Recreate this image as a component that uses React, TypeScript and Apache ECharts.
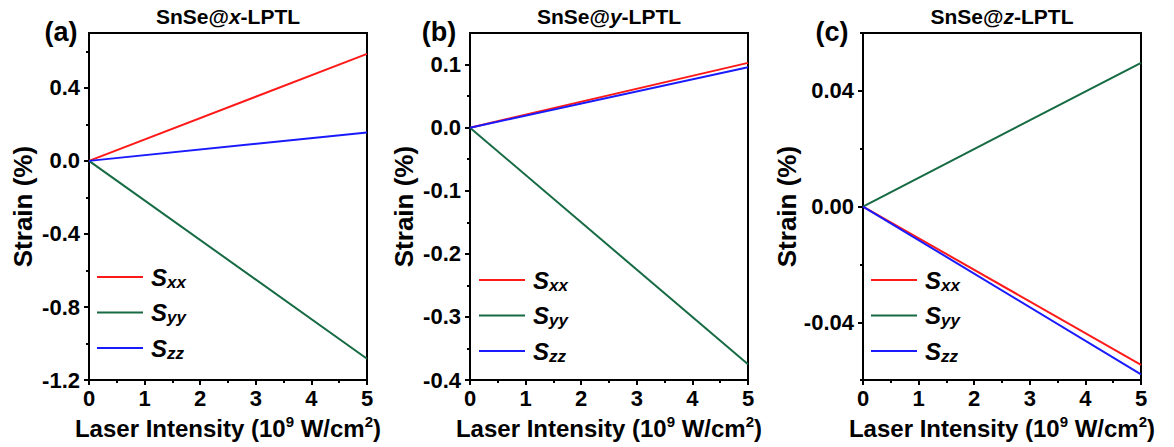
import React, { useEffect, useRef } from "react";
import * as echarts from "echarts";

const FONT = '"Liberation Sans", Arial, Helvetica, sans-serif';

// Laser intensity (10^9 W/cm^2)
const intensity = [0, 5];
const xTicks = [0, 1, 2, 3, 4, 5];

// Panel (a) SnSe@x-LPTL strain (%)
const aSxx = [0, 0.586];
const aSyy = [0, -1.083];
const aSzz = [0, 0.155];
const aMajor = [-1.2, -0.8, -0.4, 0, 0.4];
const aMinor = [-1.0, -0.6, -0.2, 0.2, 0.6];

// Panel (b) SnSe@y-LPTL strain (%)
const bSxx = [0, 0.1027];
const bSyy = [0, -0.375];
const bSzz = [0, 0.0958];
const bMajor = [-0.4, -0.3, -0.2, -0.1, 0, 0.1];
const bMinor = [-0.35, -0.25, -0.15, -0.05, 0.05];

// Panel (c) SnSe@z-LPTL strain (%)
const cSxx = [0, -0.0547];
const cSyy = [0, 0.0497];
const cSzz = [0, -0.058];
const cMajor = [-0.04, 0, 0.04];
const cMinor = [-0.06, -0.02, 0.02, 0.06];

const seriesNames = ["Sxx", "Syy", "Szz"];
const colors = ["#ff1a1a", "#166b43", "#1a1aff"];

const panels = [
  {
    label: "(a)", dir: "x", data: [aSxx, aSyy, aSzz], min: -1.2, max: 0.7,
    major: aMajor, minor: aMinor, digits: 1,
    grid: { left: 89, top: 33, width: 278, height: 348 },
    legend: { left: 97, top: 265 }, labelX: 61,
  },
  {
    label: "(b)", dir: "y", data: [bSxx, bSyy, bSzz], min: -0.4, max: 0.15,
    major: bMajor, minor: bMinor, digits: 1,
    grid: { left: 470, top: 33, width: 278, height: 348 },
    legend: { left: 479, top: 268 }, labelX: 439,
  },
  {
    label: "(c)", dir: "z", data: [cSxx, cSyy, cSzz], min: -0.06, max: 0.06,
    major: cMajor, minor: cMinor, digits: 2,
    grid: { left: 863, top: 33, width: 278, height: 348 },
    legend: { left: 871, top: 268 }, labelX: 832,
  },
];

function buildOption() {
  const grid: any[] = [];
  const xAxis: any[] = [];
  const yAxis: any[] = [];
  const series: any[] = [];
  const legend: any[] = [];
  const graphic: any[] = [];

  panels.forEach((p, i) => {
    grid.push({
      ...p.grid,
      show: true,
      borderColor: "#000",
      borderWidth: 2,
      backgroundColor: "transparent",
    });
    xAxis.push({
      type: "value",
      gridIndex: i,
      min: 0,
      max: 5,
      interval: 1,
      axisLine: { show: true, onZero: false, lineStyle: { color: "#000", width: 2 } },
      axisTick: { show: true, length: 5, lineStyle: { color: "#000", width: 2 } },
      minorTick: { show: true, splitNumber: 2, length: 3, lineStyle: { color: "#000", width: 2 } },
      splitLine: { show: false },
      minorSplitLine: { show: false },
      axisLabel: {
        color: "#000",
        fontFamily: FONT,
        fontWeight: "bold",
        fontSize: 22,
        margin: 7,
        customValues: xTicks,
        formatter: (v: number) => String(v),
      },
      name: "Laser Intensity (10{sup|9} W/cm{sup|2})",
      nameLocation: "middle",
      nameGap: 27,
      nameTextStyle: {
        color: "#000",
        fontFamily: FONT,
        fontWeight: "bold",
        fontSize: 24,
        lineHeight: 28,
        rich: {
          sup: {
            color: "#000",
            fontFamily: FONT,
            fontWeight: "bold",
            fontSize: 15,
            lineHeight: 15,
            verticalAlign: "top",
          },
        },
      },
    });
    yAxis.push({
      type: "value",
      gridIndex: i,
      min: p.min,
      max: p.max,
      axisLine: { show: true, onZero: false, lineStyle: { color: "#000", width: 2 } },
      axisTick: { show: true, length: 5, customValues: p.major, lineStyle: { color: "#000", width: 2 } },
      splitLine: { show: false },
      axisLabel: {
        color: "#000",
        fontFamily: FONT,
        fontWeight: "bold",
        fontSize: 22,
        margin: 9,
        customValues: p.major,
        formatter: (v: number) => v.toFixed(p.digits),
      },
      name: "Strain (%)",
      nameLocation: "middle",
      nameGap: 53,
      nameTextStyle: {
        color: "#000",
        fontFamily: FONT,
        fontWeight: "bold",
        fontSize: 26,
      },
    });
    // overlay axis for minor ticks
    yAxis.push({
      type: "value",
      gridIndex: i,
      min: p.min,
      max: p.max,
      position: "left",
      axisLine: { show: false, onZero: false },
      axisTick: { show: true, length: 3, customValues: p.minor, lineStyle: { color: "#000", width: 2 } },
      axisLabel: { show: false, customValues: p.minor },
      splitLine: { show: false },
    });

    p.data.forEach((vals, k) => {
      series.push({
        type: "line",
        name: seriesNames[k],
        xAxisIndex: i,
        yAxisIndex: i * 2,
        data: intensity.map((x, j) => [x, vals[j]]),
        showSymbol: false,
        symbol: "none",
        lineStyle: { color: colors[k], width: 2 },
        itemStyle: { color: colors[k] },
        z: 3 + k,
      });
    });

    legend.push({
      orient: "vertical",
      left: p.legend.left,
      top: p.legend.top,
      data: seriesNames,
      icon: "rect",
      itemWidth: 46,
      itemHeight: 2,
      itemGap: 10,
      padding: 0,
      selectedMode: false,
      formatter: (name: string) => `{s|S}{sub|${name.slice(1)}}`,
      textStyle: {
        color: "#000",
        padding: [0, 0, 0, 3],
        rich: {
          s: {
            color: "#000",
            fontFamily: FONT,
            fontWeight: "bold",
            fontStyle: "italic",
            fontSize: 24,
            lineHeight: 27,
            verticalAlign: "middle",
          },
          sub: {
            color: "#000",
            fontFamily: FONT,
            fontWeight: "bold",
            fontStyle: "italic",
            fontSize: 17,
            lineHeight: 17,
            verticalAlign: "bottom",
          },
        },
      },
    });

    const cx = p.grid.left + p.grid.width / 2;
    graphic.push({
      type: "text",
      x: cx,
      y: 16,
      style: {
        text: `{n|SnSe@}{i|${p.dir}}{n|-LPTL}`,
        align: "center",
        verticalAlign: "middle",
        fill: "#000",
        rich: {
          n: { fontFamily: FONT, fontWeight: "bold", fontSize: 21, fill: "#000" },
          i: { fontFamily: FONT, fontWeight: "bold", fontStyle: "italic", fontSize: 21, fill: "#000" },
        },
      },
    });
    graphic.push({
      type: "text",
      x: p.labelX,
      y: 32,
      style: {
        text: p.label,
        align: "center",
        verticalAlign: "middle",
        fill: "#000",
        fontFamily: FONT,
        fontWeight: "bold",
        fontSize: 27,
      },
    });
  });

  return {
    animation: false,
    backgroundColor: "#fff",
    grid,
    xAxis,
    yAxis,
    series,
    legend,
    graphic,
  };
}

export default function App() {
  const ref = useRef<HTMLDivElement>(null);
  useEffect(() => {
    if (!ref.current) return;
    const chart = echarts.init(ref.current, undefined, { renderer: "svg" });
    chart.setOption(buildOption() as any);
    return () => chart.dispose();
  }, []);
  return (
    <div
      ref={ref}
      style={{ position: "absolute", left: 0, top: 0, width: 1174, height: 447 }}
    />
  );
}
